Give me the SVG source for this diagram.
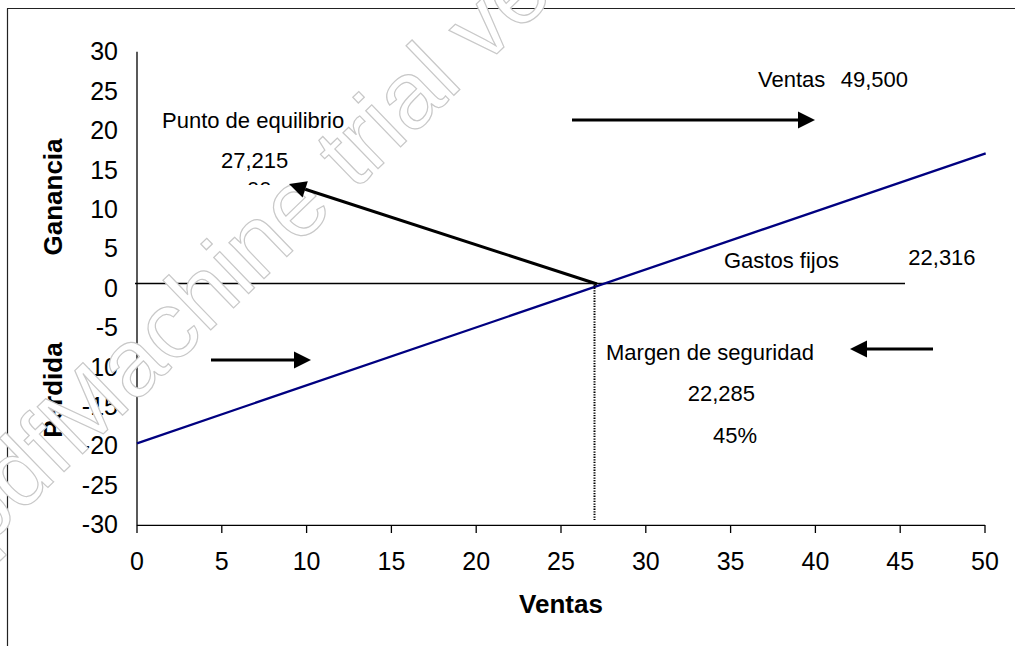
<svg xmlns="http://www.w3.org/2000/svg" width="1015" height="646" viewBox="0 0 1015 646">
<style>
text{font-family:"Liberation Sans",Arial,sans-serif;fill:#000}
.lbl{font-size:22px}
.tick{font-size:25px}
.ytick{text-anchor:end}
.xtick{text-anchor:middle}
.title{font-size:26px;font-weight:bold}
.axis{stroke:#000;stroke-width:1.3;fill:none}
.arrow{stroke:#000;stroke-width:3;fill:none}
.wm{font-size:95px;fill:#fff;stroke:#c8c8c8;stroke-width:1.2}
</style>
<defs>
<marker id="head" markerUnits="userSpaceOnUse" viewBox="0 -9 18 18" markerWidth="18" markerHeight="18" refX="0" refY="0" orient="auto" overflow="visible">
<path d="M0,-8.5 L17,0 L0,8.5 Z" fill="#000"/>
</marker>
<clipPath id="clip00"><rect x="200" y="170" width="120" height="15"/></clipPath>
</defs>
<rect width="1015" height="646" fill="#fff"/>
<g id="frame" stroke="#222" stroke-width="1.2" fill="none">
<line x1="7" y1="8.5" x2="1015" y2="8.5"/>
<line x1="7.5" y1="8.5" x2="7.5" y2="646"/>
</g>
<g id="axes">
<line class="axis" x1="137" y1="51.7" x2="137" y2="525.3"/>
<line class="axis" x1="137" y1="525.3" x2="985" y2="525.3"/>
<g class="axis">
<line x1="137" y1="525" x2="137" y2="533"/>
<line x1="221.8" y1="525" x2="221.8" y2="533"/>
<line x1="306.6" y1="525" x2="306.6" y2="533"/>
<line x1="391.4" y1="525" x2="391.4" y2="533"/>
<line x1="476.2" y1="525" x2="476.2" y2="533"/>
<line x1="561" y1="525" x2="561" y2="533"/>
<line x1="645.8" y1="525" x2="645.8" y2="533"/>
<line x1="730.6" y1="525" x2="730.6" y2="533"/>
<line x1="815.4" y1="525" x2="815.4" y2="533"/>
<line x1="900.2" y1="525" x2="900.2" y2="533"/>
<line x1="985" y1="525" x2="985" y2="533"/>
</g>
<g class="tick ytick">
<text x="118" y="60">30</text>
<text x="118" y="99.5">25</text>
<text x="118" y="139">20</text>
<text x="118" y="178.5">15</text>
<text x="118" y="218">10</text>
<text x="118" y="257.3">5</text>
<text x="118" y="296.7">0</text>
<text x="118" y="336">-5</text>
<text x="118" y="375.5">-10</text>
<text x="118" y="415">-15</text>
<text x="118" y="454.3">-20</text>
<text x="118" y="493.7">-25</text>
<text x="118" y="533.3">-30</text>
</g>
<g class="tick xtick">
<text x="137" y="570">0</text>
<text x="221.8" y="570">5</text>
<text x="306.6" y="570">10</text>
<text x="391.4" y="570">15</text>
<text x="476.2" y="570">20</text>
<text x="561" y="570">25</text>
<text x="645.8" y="570">30</text>
<text x="730.6" y="570">35</text>
<text x="815.4" y="570">40</text>
<text x="900.2" y="570">45</text>
<text x="985" y="570">50</text>
</g>
<text class="title" x="561" y="613" text-anchor="middle">Ventas</text>
<text class="title" transform="translate(62,197) rotate(-90)" text-anchor="middle">Ganancia</text>
<text class="title" transform="translate(62,390) rotate(-90)" text-anchor="middle">Perdida</text>
</g>
<g id="gastos-fijos">
<line x1="135" y1="283.5" x2="905" y2="283.5" stroke="#000" stroke-width="1.5"/>
</g>
<g id="label-punto">
<text class="lbl" x="162" y="128">Punto de equilibrio</text>
<text class="lbl" x="221" y="168">27,215</text>
<text class="lbl" x="247" y="197" clip-path="url(#clip00)">00</text>
</g>
<g id="watermark">
<text class="wm" transform="translate(-18,551) rotate(-44)">pdfMachine trial version</text>
</g>
<g id="series">
<line id="ventas-line" x1="137" y1="443.3" x2="985.7" y2="153.3" stroke="#000080" stroke-width="2.3"/>
<line id="margen-line" x1="594.5" y1="285" x2="594.5" y2="520" stroke="#000" stroke-width="2" stroke-dasharray="1.3,1.3"/>
</g>
<g id="connectors">
<line class="arrow" x1="597" y1="284" x2="305.2" y2="189.3" marker-end="url(#head)"/>
<line class="arrow" x1="572" y1="120" x2="798" y2="120" marker-end="url(#head)"/>
<line class="arrow" x1="211" y1="360" x2="294" y2="360" marker-end="url(#head)"/>
<line class="arrow" x1="933" y1="349" x2="867" y2="349" marker-end="url(#head)"/>
</g>
<g id="label-ventas">
<text class="lbl" x="758" y="87.3">Ventas</text>
<text class="lbl" x="840.7" y="87.3">49,500</text>
</g>
<g id="label-gastos">
<text class="lbl" x="724" y="268.3">Gastos fijos</text>
<text class="lbl" x="908.3" y="265">22,316</text>
</g>
<g id="label-margen">
<text class="lbl" x="606" y="360">Margen de seguridad</text>
<text class="lbl" x="687.7" y="400.7">22,285</text>
<text class="lbl" x="713" y="443.3">45%</text>
</g>
</svg>
